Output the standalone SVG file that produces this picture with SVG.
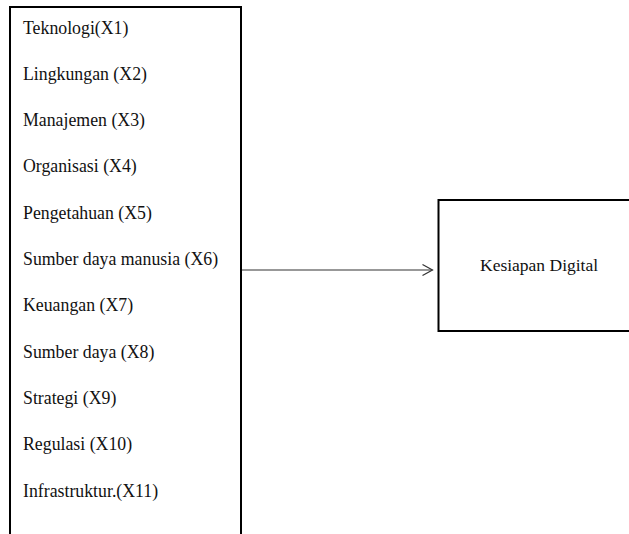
<svg xmlns="http://www.w3.org/2000/svg" width="629" height="534" viewBox="0 0 629 534">
<style>
.box{fill:#fff;stroke:#000;stroke-width:2}
.t{font-family:'Times New Roman','Liberation Serif',Tinos,'DejaVu Serif',serif;font-size:17.8px;fill:#111}
.conn{stroke:#333;stroke-width:1.2;fill:none}
</style>
<rect width="629" height="534" fill="#fff"/>
<g id="factors">
<rect class="box" x="10" y="7" width="231" height="540"/>
<text class="t" x="23" y="33.5">Teknologi(X1)</text>
<text class="t" x="23" y="79.8">Lingkungan (X2)</text>
<text class="t" x="23" y="126.1">Manajemen (X3)</text>
<text class="t" x="23" y="172.4">Organisasi (X4)</text>
<text class="t" x="23" y="218.7">Pengetahuan (X5)</text>
<text class="t" x="23" y="265">Sumber daya manusia (X6)</text>
<text class="t" x="23" y="311.3">Keuangan (X7)</text>
<text class="t" x="23" y="357.6">Sumber daya (X8)</text>
<text class="t" x="23" y="403.9">Strategi (X9)</text>
<text class="t" x="23" y="450.2">Regulasi (X10)</text>
<text class="t" x="23" y="496.5">Infrastruktur.(X11)</text>
</g>
<g id="kesiapan">
<rect class="box" x="438.5" y="200" width="200" height="131"/>
<text class="t" x="480" y="271" style="font-size:17.5px">Kesiapan Digital</text>
</g>
<g id="connectors">
<line class="conn" x1="242" y1="270" x2="432.5" y2="270"/>
<polyline class="conn" points="422.5,264.5 432.5,270 422.5,275.5"/>
</g>
</svg>
